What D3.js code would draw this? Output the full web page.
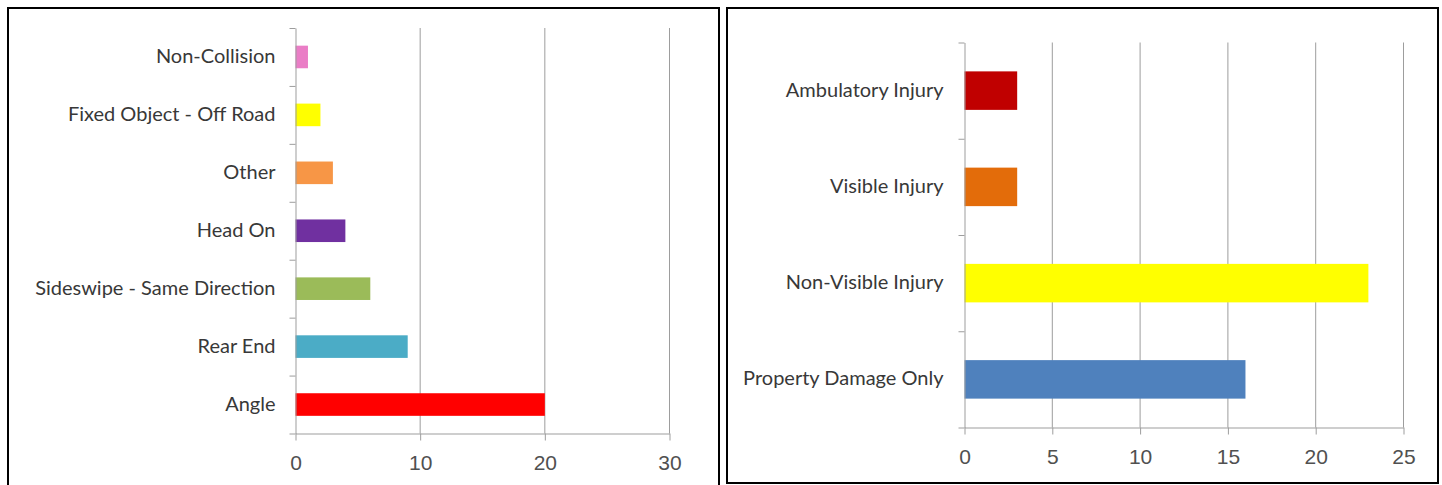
<!DOCTYPE html>
<html>
<head>
<meta charset="utf-8">
<script src="https://cdn.jsdelivr.net/npm/d3@7"></script>
<style>
  body { margin: 0; background: #fff; }
  svg { display: block; font-family: Lato, "Open Sans", sans-serif; }
  .lbl { fill: #383838; font-size: 20px; }
  .tick text { fill: #505050; font-size: 21px; }
  .grid line, .axis path, .axis line { stroke: #9d9d9d; stroke-width: 1; }
</style>
</head>
<body>
<div id="chart"></div>
<script>
// collision types (left panel), top to bottom
var typeNames = ["Non-Collision", "Fixed Object - Off Road", "Other", "Head On",
                 "Sideswipe - Same Direction", "Rear End", "Angle"]
var typeCounts = [1, 2, 3, 4, 6, 9, 20]
var typeColors = ["#ea7dc6", "#ffff00", "#f79646", "#7030a0", "#9bbb59", "#4bacc6", "#ff0000"]
var typeTicks = [0, 10, 20, 30]

// injury severity (right panel), top to bottom
var injuryNames = ["Ambulatory Injury", "Visible Injury", "Non-Visible Injury", "Property Damage Only"]
var injuryCounts = [3, 3, 23, 16]
var injuryColors = ["#c00000", "#e36c0a", "#ffff00", "#4f81bd"]
var injuryTicks = [0, 5, 10, 15, 20, 25]

var svgWidth = 1442
var svgHeight = 485

var svg = d3.select("#chart")
    .append("svg")
    .attr("width", svgWidth)
    .attr("height", svgHeight);

// panel frames
svg.append("rect")
    .attr("x", 8).attr("y", 8)
    .attr("width", 711).attr("height", 500)
    .attr("fill", "none").attr("stroke", "#000").attr("stroke-width", 2);

svg.append("rect")
    .attr("x", 727).attr("y", 8)
    .attr("width", 711).attr("height", 475)
    .attr("fill", "none").attr("stroke", "#000").attr("stroke-width", 2);

function drawBars(opt) {
    var g = svg.append("g");

    var xScale = d3.scaleLinear()
        .domain([0, d3.max(opt.ticks)])
        .range([opt.left, opt.right]);

    var yScale = d3.scaleBand()
        .domain(opt.names)
        .range([opt.top, opt.bottom])
        .paddingInner(opt.pad)
        .paddingOuter(opt.pad / 2);

    // band boundaries for the little ticks on the category axis
    var edgeScale = d3.scaleLinear()
        .domain([0, opt.names.length])
        .range([opt.top, opt.bottom]);

    // vertical gridlines
    g.append("g")
        .attr("class", "grid")
        .selectAll("line")
        .data(opt.ticks.filter(t => t > 0))
        .join("line")
        .attr("x1", d => xScale(d)).attr("x2", d => xScale(d))
        .attr("y1", opt.top).attr("y2", opt.bottom);

    // bars
    g.selectAll(".bar")
        .data(opt.names)
        .join("rect")
        .attr("class", "bar")
        .attr("x", xScale(0))
        .attr("y", d => yScale(d))
        .attr("height", yScale.bandwidth())
        .attr("width", (d, i) => xScale(opt.values[i]) - xScale(0))
        .attr("fill", (d, i) => opt.colors[i]);

    // value axis
    var bottomAxis = d3.axisBottom(xScale)
        .tickValues(opt.ticks)
        .tickSize(7)
        .tickSizeOuter(0)
        .tickPadding(15);

    g.append("g")
        .attr("class", "axis")
        .attr("transform", "translate(0," + opt.bottom + ")")
        .call(bottomAxis);

    // category axis: line + boundary ticks, no text
    var leftAxis = d3.axisLeft(edgeScale)
        .tickValues(d3.range(opt.names.length + 1))
        .tickFormat("")
        .tickSize(6)
        .tickSizeOuter(0);

    g.append("g")
        .attr("class", "axis")
        .attr("transform", "translate(" + opt.left + ",0)")
        .call(leftAxis);

    // category labels
    g.selectAll(".lbl")
        .data(opt.names)
        .join("text")
        .attr("class", "lbl")
        .attr("x", opt.left - opt.labelGap)
        .attr("y", d => yScale(d) + yScale.bandwidth() / 2)
        .attr("dy", "0.3em")
        .attr("text-anchor", "end")
        .text(d => d);
}

drawBars({
    names: typeNames, values: typeCounts, colors: typeColors, ticks: typeTicks,
    left: 295.5, right: 669.5, top: 28, bottom: 433.5, pad: 0.61, labelGap: 20
});

drawBars({
    names: injuryNames, values: injuryCounts, colors: injuryColors, ticks: injuryTicks,
    left: 964.5, right: 1403.5, top: 42.5, bottom: 427.5, pad: 0.6, labelGap: 21
});
</script>
</body>
</html>
